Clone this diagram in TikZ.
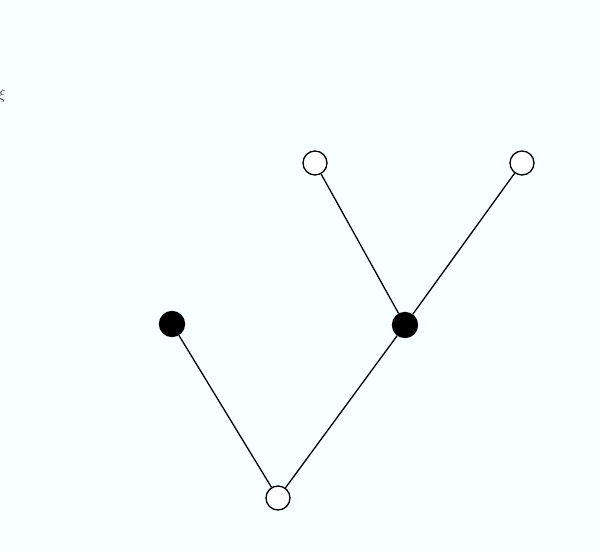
\documentclass[tikz,border=0pt]{standalone}
\definecolor{bgc}{RGB}{248,255,255}
\begin{document}
\begin{tikzpicture}[x=1pt,y=-1pt,
  opennode/.style={circle,draw=black,fill=white,line width=1.3pt,minimum size=24pt,inner sep=0pt},
  fullnode/.style={circle,draw=black,fill=black,line width=1.3pt,minimum size=25pt,inner sep=0pt},
  edge/.style={draw=black,line width=1.3pt}]
\fill[bgc] (0,0) rectangle (600,552);
\useasboundingbox (0,0) rectangle (600,552);
\begin{scope}
\clip (0,0) rectangle (600,552);
\node[anchor=east,inner sep=0pt,font=\Large,text=black!80] (lbl) at (6,96) {$\xi$};
\end{scope}
\node[opennode] (a) at (315,163) {};
\node[opennode] (b) at (522,163) {};
\node[fullnode] (c) at (172,324) {};
\node[fullnode] (d) at (405,325) {};
\node[opennode] (e) at (278,498) {};
\draw[edge] (c) -- (e);
\draw[edge] (e) -- (d);
\draw[edge] (d) -- (a);
\draw[edge] (d) -- (b);
\end{tikzpicture}
\end{document}
